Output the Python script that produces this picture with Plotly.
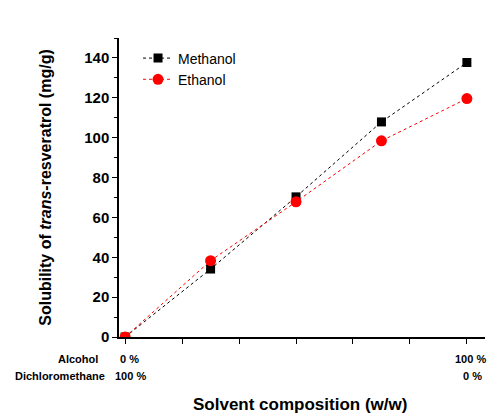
import plotly.graph_objects as go

composition = [0, 25, 50, 75, 100]
methanol = [0, 34.1, 70.3, 107.9, 137.7]
ethanol = [0, 38.3, 67.8, 98.4, 119.6]
y_ticks = [0, 20, 40, 60, 80, 100, 120, 140]

FONT = "Liberation Sans, Arial, sans-serif"
L, R, T, B = 119, 485, 38, 337

fig = go.Figure()
fig.add_trace(go.Scatter(
    x=composition, y=methanol, name="Methanol", mode="lines+markers",
    line=dict(color="black", width=1, dash="dot"),
    marker=dict(symbol="square", size=9, color="black"),
))
fig.add_trace(go.Scatter(
    x=composition, y=ethanol, name="Ethanol", mode="lines+markers",
    line=dict(color="#ff0000", width=1, dash="dot"),
    marker=dict(symbol="circle", size=11, color="#ff0000"),
))

fig.update_layout(
    width=490, height=414,
    margin=dict(l=L, r=490 - R, t=T, b=414 - B),
    paper_bgcolor="white", plot_bgcolor="white",
    font=dict(family=FONT, color="black"),
    showlegend=True,
    legend=dict(x=0.052, y=0.985, xanchor="left", yanchor="top",
                font=dict(size=14, family=FONT), bgcolor="rgba(0,0,0,0)",
                tracegroupgap=0, itemwidth=30),
    xaxis=dict(
        range=[-1.8, 105.3], showline=True, linecolor="black", linewidth=1.5,
        showgrid=False, zeroline=False, ticks="outside", ticklen=5, tickwidth=1.2,
        tickcolor="black", tick0=0, dtick=100 / 6, showticklabels=False,
    ),
    yaxis=dict(
        range=[0, 150], showline=True, linecolor="black", linewidth=1.5,
        showgrid=False, zeroline=False, ticks="outside", ticklen=5, tickwidth=1.2,
        tickcolor="black", tickvals=y_ticks,
        tickfont=dict(size=15, family=FONT, weight="bold"),
        minor=dict(dtick=10, tick0=0, ticks="outside", ticklen=3, tickcolor="black", tickwidth=1),
        title=dict(text="<b>Solubility of <i>trans</i>-resveratrol (mg/g)</b>",
                   font=dict(size=16, family=FONT), standoff=29),
    ),
)


def px2paper(px, py):
    return (px - L) / (R - L), (B - py) / (B - T)


ann_font = dict(size=11, family=FONT, color="black", weight="bold")
labels = [
    (100, 359, "Alcohol", "right"),
    (118, 359, "0 %", "left"),
    (107, 376, "Dichloromethane", "right"),
    (113, 376, "100 %", "left"),
    (488, 359, "100 %", "right"),
    (484, 376, "0 %", "right"),
]
for px, py, txt, anchor in labels:
    x, y = px2paper(px, py)
    fig.add_annotation(
        x=x, y=y, xref="paper", yref="paper",
        text="<b>" + txt + "</b>", showarrow=False,
        xanchor=anchor, yanchor="middle", font=ann_font,
    )
x, y = px2paper(300, 404)
fig.add_annotation(
    x=x, y=y, xref="paper", yref="paper",
    text="<b>Solvent composition (w/w)</b>", showarrow=False,
    xanchor="center", yanchor="middle", font=dict(size=17, family=FONT),
)

fig.write_html("out.html")
